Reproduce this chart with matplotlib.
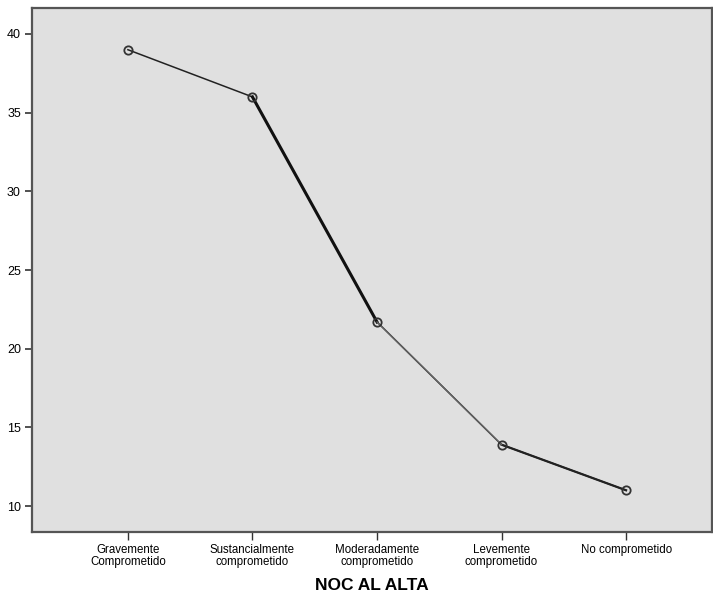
import numpy as np
import matplotlib.pyplot as plt

plt.rcParams['font.family'] = ['Liberation Sans', 'DejaVu Sans']

categorias = ['Gravemente\nComprometido', 'Sustancialmente\ncomprometido',
              'Moderadamente\ncomprometido', 'Levemente\ncomprometido',
              'No comprometido']
valores = [39.0, 36.0, 21.7, 13.9, 11.0]
yticks = [10, 15, 20, 25, 30, 35, 40]

x = np.arange(len(categorias))

fig = plt.figure(figsize=(7.13, 5.94), dpi=100)
ax = fig.add_axes([0.0449, 0.1044, 0.9537, 0.8821])
ax.set_facecolor('#e0e0e0')

# linea base y tramos con distinto grosor (como en el original)
ax.plot(x, valores, color='#222222', lw=1.1, zorder=2)
ax.plot(x[1:3], valores[1:3], color='#111111', lw=2.2, zorder=2)
ax.plot(x[2:4], valores[2:4], color='#666666', lw=0.9, zorder=3)
ax.plot(x[3:5], valores[3:5], color='#222222', lw=1.6, zorder=2)
ax.plot(x, valores, linestyle='none', marker='o', markersize=6,
        markerfacecolor='none', markeredgecolor='#333333', markeredgewidth=1.3, zorder=4)

ax.set_xlim(-0.77, 4.69)
ax.set_ylim(8.35, 41.65)
ax.set_xticks(x)
ax.set_xticklabels(categorias, fontsize=8.3, linespacing=0.95)
ax.set_yticks(yticks)
ax.tick_params(axis='y', labelsize=9, length=5, width=1.2, color='#333333', pad=3)
ax.tick_params(axis='x', length=6, width=1.0, color='#333333', pad=3)

for s in ax.spines.values():
    s.set_color('#555555')
    s.set_linewidth(1.6)

ax.set_xlabel('NOC AL ALTA', fontsize=12.5, fontweight='bold', labelpad=7)

plt.savefig('out.png', dpi=100)
